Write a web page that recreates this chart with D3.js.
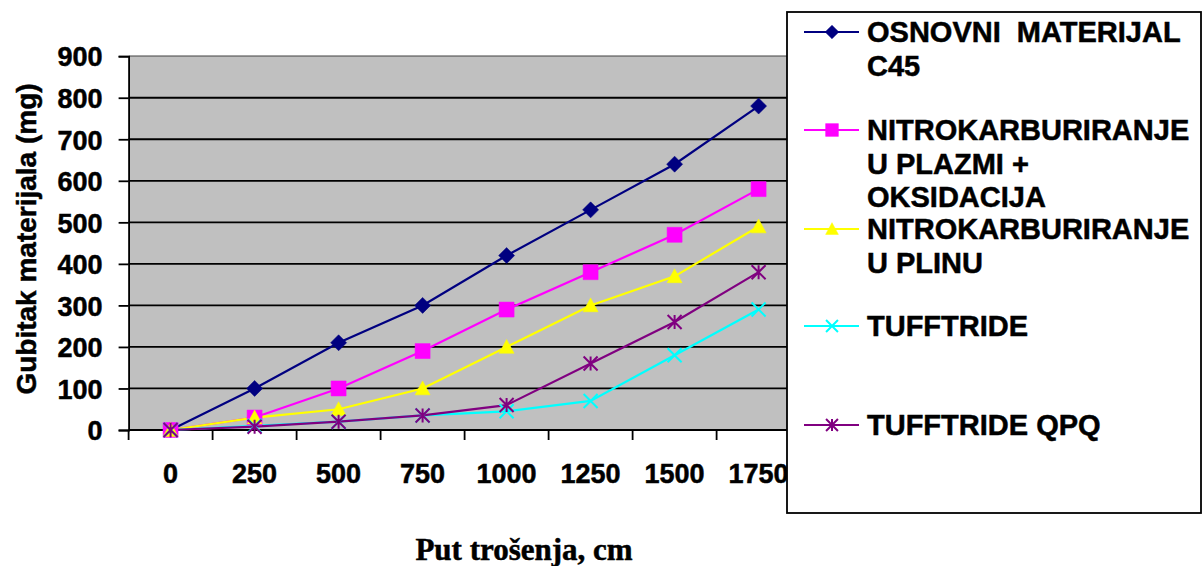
<!DOCTYPE html>
<html><head><meta charset="utf-8">
<script src="https://cdn.jsdelivr.net/npm/d3@7"></script>
<style>
html,body{margin:0;padding:0;background:#fff;}
svg{display:block;}
</style></head>
<body>
<svg id="chart" width="1202" height="566"></svg>
<script>
const categories = ["0","250","500","750","1000","1250","1500","1750"];
const yTicks = [0,100,200,300,400,500,600,700,800,900];
const seriesNames = [
  ["OSNOVNI  MATERIJAL","C45"],
  ["NITROKARBURIRANJE","U PLAZMI +","OKSIDACIJA"],
  ["NITROKARBURIRANJE","U PLINU"],
  ["TUFFTRIDE"],
  ["TUFFTRIDE QPQ"]
];
const osnovni   = [0,100,210,300,420,530,640,780];
const plazma    = [0,30,100,190,290,380,470,580];
const plin      = [0,30,50,100,200,300,370,490];
const tufftride = [0,10,20,35,45,70,180,290];
const qpq       = [0,8,20,35,60,160,260,380];
const seriesValues = [osnovni, plazma, plin, tufftride, qpq];
const colors = ["#000080","#FF00FF","#FFFF00","#00FFFF","#800080"];
const markers = ["diamond","square","triangle","x","star"];
const yTitle = "Gubitak materijala (mg)";
const xTitle = "Put trošenja, cm";

const SANS = "Liberation Sans, Arial, sans-serif";
const SERIF = "Liberation Serif, Times New Roman, serif";
function boldText(sel, size, family){
  return sel.style("font-family", family||SANS).style("font-weight","bold")
    .style("font-size", size+"px").style("fill","#000")
    .style("stroke","#000").style("stroke-width","0.5px");
}

const svg = d3.select("#chart");
const plot = {left:128.6, right:800.6, top:56.2, bottom:430};

const x = d3.scaleBand().domain(categories).range([plot.left, plot.right]).padding(0);
const y = d3.scaleLinear().domain([0,900]).range([plot.bottom, plot.top]);

svg.append("rect").attr("x",plot.left).attr("y",plot.top)
  .attr("width",plot.right-plot.left).attr("height",plot.bottom-plot.top)
  .attr("fill","#C0C0C0");

svg.append("g").selectAll("line").data(yTicks.filter(d=>d>0)).join("line")
  .attr("x1",plot.left).attr("x2",plot.right)
  .attr("y1",d=>y(d)).attr("y2",d=>y(d))
  .attr("stroke",d=>d===900?"#808080":"#000").attr("stroke-width",1.8);

const yAxis = d3.axisLeft(y).tickValues(yTicks).tickSize(10).tickPadding(16).tickFormat(d3.format("d"));
const gy = svg.append("g").attr("transform",`translate(${plot.left},0)`).call(yAxis);
gy.select(".domain").attr("stroke","#000").attr("stroke-width",1.8);
gy.selectAll(".tick line").attr("stroke","#000").attr("stroke-width",1.8);
boldText(gy.selectAll(".tick text"), 27).attr("dy","0.36em");

const xAxisLine = svg.append("g");
xAxisLine.append("line").attr("x1",plot.left).attr("x2",plot.right)
  .attr("y1",plot.bottom).attr("y2",plot.bottom).attr("stroke","#000").attr("stroke-width",1.8);
xAxisLine.selectAll("line.tk").data(categories).join("line").attr("class","tk")
  .attr("x1",d=>x(d)).attr("x2",d=>x(d))
  .attr("y1",plot.bottom).attr("y2",plot.bottom+10).attr("stroke","#000").attr("stroke-width",1.8);
boldText(svg.append("g").selectAll("text").data(categories).join("text")
  .attr("x",d=>x(d)+x.bandwidth()/2).attr("y",483)
  .attr("text-anchor","middle").text(d=>d), 27);

function markerPath(type, s){
  const h=s/2;
  switch(type){
    case "diamond": return `M0,${-h}L${h},0L0,${h}L${-h},0Z`;
    case "square": return `M${-h},${-h}H${h}V${h}H${-h}Z`;
    case "triangle": return `M0,${-h}L${h},${h*0.85}L${-h},${h*0.85}Z`;
    case "x": return `M${-h},${-h}L${h},${h}M${-h},${h}L${h},${-h}`;
    case "star": return `M${-h},${-h}L${h},${h}M${-h},${h}L${h},${-h}M0,${-h}L0,${h}`;
  }
}
const markerSize = {diamond:16, square:15, triangle:15, x:14, star:14};
function drawMarker(g, type, color, scale){
  const filled = !(type==="x"||type==="star");
  g.append("path").attr("d",markerPath(type,markerSize[type]*scale))
    .attr("fill",filled?color:"none")
    .attr("stroke",color).attr("stroke-width",filled?0.5:2);
}

const line = d3.line().x((d,i)=>x(categories[i])+x.bandwidth()/2).y(d=>y(d));
seriesValues.forEach((vals,si)=>{
  svg.append("path").datum(vals).attr("d",line)
    .attr("fill","none").attr("stroke",colors[si]).attr("stroke-width",2.2);
});
seriesValues.forEach((vals,si)=>{
  vals.forEach((v,i)=>{
    const g = svg.append("g").attr("transform",`translate(${x(categories[i])+x.bandwidth()/2},${y(v)})`);
    drawMarker(g, markers[si], colors[si], 1);
  });
});

boldText(svg.append("text").attr("transform",`translate(36,239) rotate(-90)`)
  .attr("text-anchor","middle").text(yTitle), 28);
boldText(svg.append("text").attr("x",524).attr("y",560).attr("text-anchor","middle").text(xTitle), 31, SERIF);

const legend = svg.append("g");
legend.append("rect").attr("x",787).attr("y",12).attr("width",414).attr("height",501)
  .attr("fill","#fff").attr("stroke","#000").attr("stroke-width",1.8);
const legendY = [32,130,229,326,425];
seriesNames.forEach((lines,si)=>{
  const ly = legendY[si];
  legend.append("line").attr("x1",804).attr("x2",859).attr("y1",ly).attr("y2",ly)
    .attr("stroke",colors[si]).attr("stroke-width",2);
  const g = legend.append("g").attr("transform",`translate(832,${ly})`);
  drawMarker(g, markers[si], colors[si], 0.85);
  const t = boldText(legend.append("text").attr("x",867).attr("y",ly+10), 29)
    .attr("xml:space","preserve").style("white-space","pre");
  lines.forEach((s,li)=>{
    t.append("tspan").attr("x",867).attr("dy",li===0?0:33.6).text(s);
  });
});
</script>
</body></html>
